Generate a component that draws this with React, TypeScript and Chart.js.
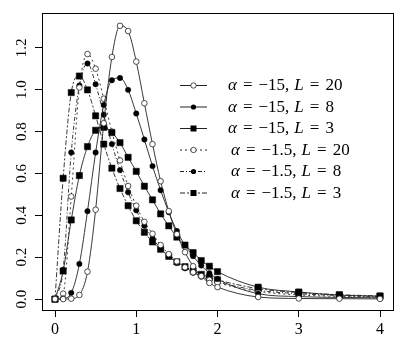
import React, { useEffect, useRef } from 'react';
import { Chart, registerables } from 'chart.js';

Chart.register(...registerables);

const xValues = [0, 0.1, 0.2, 0.3, 0.4, 0.5, 0.6, 0.7, 0.8, 0.9, 1.0, 1.1, 1.2, 1.3, 1.4, 1.5, 1.6, 1.7, 1.8, 1.9, 2.0, 2.5, 3, 3.5, 4];
const xTicks = [0, 1, 2, 3, 4];
const yTicks = [0, 0.2, 0.4, 0.6, 0.8, 1.0, 1.2];

const alphaLabels = ['−15', '−15', '−15', '−1.5', '−1.5', '−1.5'];
const lLabels = ['20', '8', '3', '20', '8', '3'];

const a15L20 = [0, 0, 0.002, 0.02, 0.131, 0.427, 0.84, 1.156, 1.305, 1.28, 1.134, 0.935, 0.74, 0.563, 0.42, 0.31, 0.224, 0.157, 0.11, 0.077, 0.057, 0.01, 0.003, 0.002, 0.001];
const a15L8 = [0, 0.003, 0.03, 0.168, 0.42, 0.70, 0.927, 1.045, 1.056, 0.999, 0.886, 0.762, 0.635, 0.52, 0.415, 0.325, 0.258, 0.205, 0.16, 0.124, 0.096, 0.026, 0.012, 0.008, 0.006];
const a15L3 = [0, 0.134, 0.378, 0.59, 0.728, 0.806, 0.82, 0.795, 0.747, 0.677, 0.61, 0.539, 0.474, 0.407, 0.35, 0.296, 0.258, 0.222, 0.184, 0.157, 0.131, 0.057, 0.034, 0.019, 0.014];
const a1p5L20 = [0, 0.026, 0.49, 1.01, 1.17, 1.10, 0.957, 0.80, 0.662, 0.54, 0.446, 0.369, 0.312, 0.258, 0.215, 0.18, 0.152, 0.128, 0.108, 0.092, 0.078, 0.037, 0.02, 0.013, 0.009];
const a1p5L8 = [0, 0.14, 0.70, 1.02, 1.125, 1.026, 0.88, 0.74, 0.616, 0.51, 0.424, 0.35, 0.29, 0.243, 0.205, 0.172, 0.147, 0.126, 0.108, 0.094, 0.082, 0.042, 0.026, 0.017, 0.012];
const a1p5L3 = [0, 0.577, 0.986, 1.065, 0.999, 0.875, 0.74, 0.625, 0.528, 0.446, 0.374, 0.319, 0.273, 0.238, 0.204, 0.178, 0.155, 0.135, 0.118, 0.104, 0.092, 0.05, 0.031, 0.021, 0.015];

const seriesValues = [a15L20, a15L8, a15L3, a1p5L20, a1p5L8, a1p5L3];

const SERIF = '"Liberation Serif", "Times New Roman", serif';

type Style = { kind: 'circle' | 'dot' | 'square'; dash: number[] };
const styles: Style[] = [
  { kind: 'circle', dash: [] },
  { kind: 'dot', dash: [] },
  { kind: 'square', dash: [] },
  { kind: 'circle', dash: [2, 3] },
  { kind: 'dot', dash: [4, 2, 1, 2] },
  { kind: 'square', dash: [5, 2, 2, 2] },
];

function pointProps(kind: string) {
  if (kind === 'circle') return { pointStyle: 'circle', pointRadius: 2.8, pointBackgroundColor: '#fff', pointBorderColor: '#222', pointBorderWidth: 0.8 };
  if (kind === 'dot') return { pointStyle: 'circle', pointRadius: 2.7, pointBackgroundColor: '#000', pointBorderColor: '#000', pointBorderWidth: 0.5 };
  return { pointStyle: 'rect', pointRadius: 4.4, pointBackgroundColor: '#000', pointBorderColor: '#000', pointBorderWidth: 0.5 };
}

function drawMarker(ctx: CanvasRenderingContext2D, kind: string, x: number, y: number) {
  ctx.save();
  ctx.setLineDash([]);
  if (kind === 'circle') {
    ctx.beginPath();
    ctx.arc(x, y, 2.7, 0, Math.PI * 2);
    ctx.fillStyle = '#fff';
    ctx.fill();
    ctx.lineWidth = 0.8;
    ctx.strokeStyle = '#222';
    ctx.stroke();
  } else if (kind === 'dot') {
    ctx.beginPath();
    ctx.arc(x, y, 2.6, 0, Math.PI * 2);
    ctx.fillStyle = '#000';
    ctx.fill();
  } else {
    ctx.fillStyle = '#000';
    ctx.fillRect(x - 3, y - 3, 6, 6);
  }
  ctx.restore();
}

const boxPlugin = {
  id: 'boxPlugin',
  afterDraw(chart: any) {
    const { ctx, chartArea } = chart;
    ctx.save();
    ctx.strokeStyle = '#000';
    ctx.lineWidth = 1;
    ctx.strokeRect(Math.round(chartArea.left) + 0.5, Math.round(chartArea.top) + 0.5, Math.round(chartArea.right - chartArea.left), Math.round(chartArea.bottom - chartArea.top));
    ctx.restore();
  },
};

const legendPlugin = {
  id: 'mathLegend',
  afterDraw(chart: any) {
    const ctx: CanvasRenderingContext2D = chart.ctx;
    const x0 = 180;
    const x1 = 207;
    const textX = 228;
    const y0 = 85;
    const dy = 21.5;
    ctx.save();
    ctx.fillStyle = '#000';
    ctx.textBaseline = 'middle';
    for (let i = 0; i < styles.length; i++) {
      const y = y0 + i * dy;
      ctx.save();
      ctx.strokeStyle = '#222';
      ctx.lineWidth = 1;
      ctx.setLineDash(styles[i].dash);
      ctx.beginPath();
      ctx.moveTo(x0, y + 0.5);
      ctx.lineTo(x1, y + 0.5);
      ctx.stroke();
      ctx.restore();
      drawMarker(ctx, styles[i].kind, (x0 + x1) / 2, y + 0.5);
      const parts: [string, boolean, number][] = [
        ['α', true, 6],
        ['=', false, 6],
        [alphaLabels[i] + ',', false, 5],
        ['L', true, 6],
        ['=', false, 6],
        [lLabels[i], false, 0],
      ];
      let x = textX + (alphaLabels[i] === '−1.5' ? 3 : 0);
      for (const [t, it, gap] of parts) {
        ctx.font = (it ? 'italic ' : '') + '17px ' + SERIF;
        ctx.fillText(t, x, y + 1);
        x += ctx.measureText(t).width + gap;
      }
    }
    ctx.restore();
  },
};

export default function App() {
  const ref = useRef<HTMLCanvasElement | null>(null);
  useEffect(() => {
    if (!ref.current) return;
    const datasets = seriesValues.map((vals, i) => ({
      label: 'α = ' + alphaLabels[i] + ', L = ' + lLabels[i],
      data: xValues.map((x, j) => ({ x, y: vals[j] })),
      borderColor: '#222',
      borderWidth: 0.9,
      borderDash: styles[i].dash,
      cubicInterpolationMode: 'monotone' as const,
      fill: false,
      ...pointProps(styles[i].kind),
    }));
    const chart = new Chart(ref.current, {
      type: 'line',
      data: { datasets },
      options: {
        animation: false,
        responsive: false,
        devicePixelRatio: 1,
        layout: { padding: { top: 4, right: 6, left: 0, bottom: 0 } },
        plugins: { legend: { display: false }, tooltip: { enabled: false } },
        scales: {
          x: {
            type: 'linear',
            min: -0.16,
            max: 4.16,
            afterBuildTicks: (s: any) => { s.ticks = xTicks.map((v) => ({ value: v })); },
            afterFit: (s: any) => { s.height = 30; },
            grid: { drawOnChartArea: false, drawTicks: true, tickLength: 7, color: '#000' },
            border: { display: true, color: '#000' },
            ticks: { color: '#000', font: { family: SERIF, size: 16 }, padding: 3, maxRotation: 0, minRotation: 0, callback: (v: any) => String(v) },
          },
          y: {
            type: 'linear',
            min: -0.052,
            max: 1.366,
            afterBuildTicks: (s: any) => { s.ticks = yTicks.map((v) => ({ value: v })); },
            afterFit: (s: any) => { s.width = 42; },
            grid: { drawOnChartArea: false, drawTicks: true, tickLength: 7, color: '#000' },
            border: { display: true, color: '#000' },
            ticks: { color: '#000', font: { family: SERIF, size: 15 }, padding: 4, minRotation: 90, maxRotation: 90, crossAlign: 'center', callback: (v: any) => Number(v).toFixed(1) },
          },
        },
      },
      plugins: [boxPlugin, legendPlugin],
    } as any);
    return () => chart.destroy();
  }, []);
  return (
    <div style={{ position: 'fixed', left: 0, top: 0, width: 399, height: 340, background: '#fff' }}>
      <canvas ref={ref} width={399} height={340} />
    </div>
  );
}
